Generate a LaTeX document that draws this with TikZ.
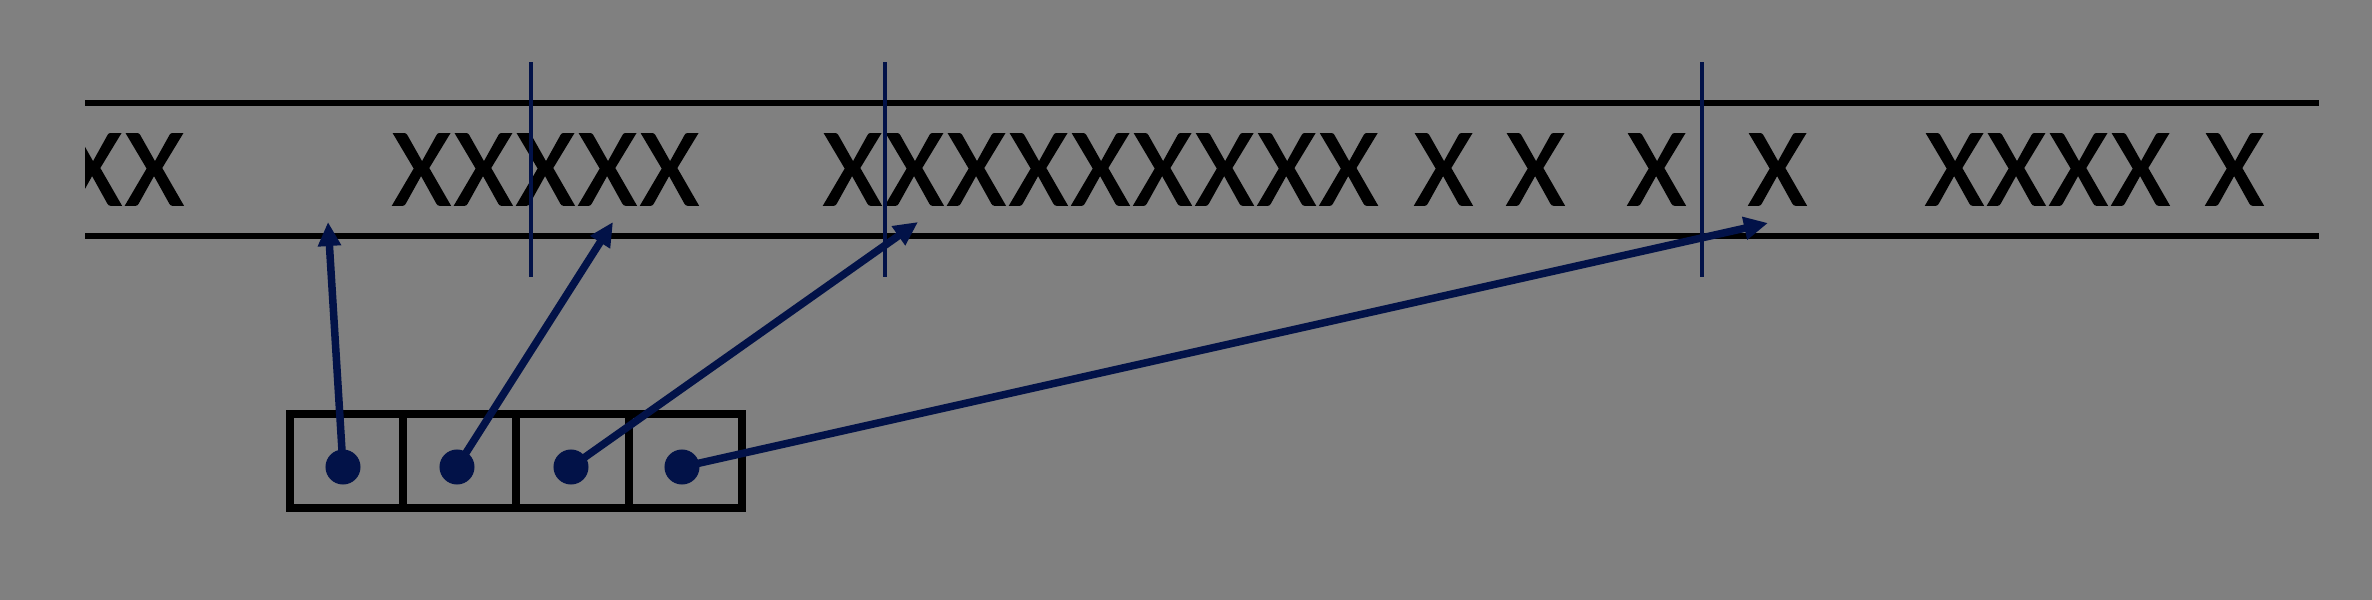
\documentclass[tikz,border=0pt]{standalone}
\usepackage{fontspec}
\newfontfamily\xfont{Carlito}[LetterSpace=4.1,FakeBold=1.6]
\usetikzlibrary{arrows.meta}
\definecolor{bgc}{RGB}{128,128,128}
\definecolor{navy}{RGB}{2,18,72}
\begin{document}
\begin{tikzpicture}[x=0.01cm,y=-0.01cm,
  rail/.style={line width=0.06cm, draw=black},
  marker/.style={line width=0.045cm, draw=navy},
  cell/.style={draw=black, line width=0.08cm, minimum width=1.13cm, minimum height=0.94cm, inner sep=0pt},
  dot/.style={circle, fill=navy, minimum size=0.35cm, inner sep=0pt},
  ptr/.style={line width=0.075cm, draw=navy, -{Triangle[length=0.24cm,width=0.22cm]}},
  xs/.style={font=\xfont\fontsize{31.5pt}{36pt}\selectfont, anchor=base west, inner sep=0pt, text=black}]
\fill[bgc] (0,0) rectangle (2372,600);
\useasboundingbox (0,0) rectangle (2372,600);
% rails
\coordinate (tl) at (85,103); \coordinate (tr) at (2319,103);
\coordinate (bl) at (85,236); \coordinate (br) at (2319,236);
\draw[rail] (tl) -- (tr);
\draw[rail] (bl) -- (br);
% text
\begin{scope}
\clip (85,0) rectangle (2372,600);
\node[xs] (ga) at (63,205) {XX};
\end{scope}
\node[xs] (gb) at (392,205) {XXXXX};
\node[xs] (gc) at (823,205) {XXXXXXXXX};
\node[xs] (gd) at (1414,205) {X};
\node[xs] (ge) at (1506,205) {X};
\node[xs] (gf) at (1627,205) {X};
\node[xs] (gg) at (1748,205) {X};
\node[xs] (gh) at (1925,205) {XXXX};
\node[xs] (gi) at (2205,205) {X};
% boundary markers
\coordinate (v1a) at (531,62);  \coordinate (v1b) at (531,277);
\coordinate (v2a) at (885,62);  \coordinate (v2b) at (885,277);
\coordinate (v3a) at (1702,62); \coordinate (v3b) at (1702,277);
\draw[marker] (v1a) -- (v1b);
\draw[marker] (v2a) -- (v2b);
\draw[marker] (v3a) -- (v3b);
% array of cells
\node[cell] (c1) at (346.5,461) {};
\node[cell] (c2) at (459.5,461) {};
\node[cell] (c3) at (572.5,461) {};
\node[cell] (c4) at (685.5,461) {};
\node[dot] (d1) at (343,467) {};
\node[dot] (d2) at (457,467) {};
\node[dot] (d3) at (571,467) {};
\node[dot] (d4) at (682,467) {};
% pointer targets
\coordinate (t1) at (328,222);
\coordinate (t2) at (613,222);
\coordinate (t3) at (918,222);
\coordinate (t4) at (1768,223);
\draw[ptr] (d1.center) -- (t1);
\draw[ptr] (d2.center) -- (t2);
\draw[ptr] (d3.center) -- (t3);
\draw[ptr] (d4.center) -- (t4);
\end{tikzpicture}
\end{document}
